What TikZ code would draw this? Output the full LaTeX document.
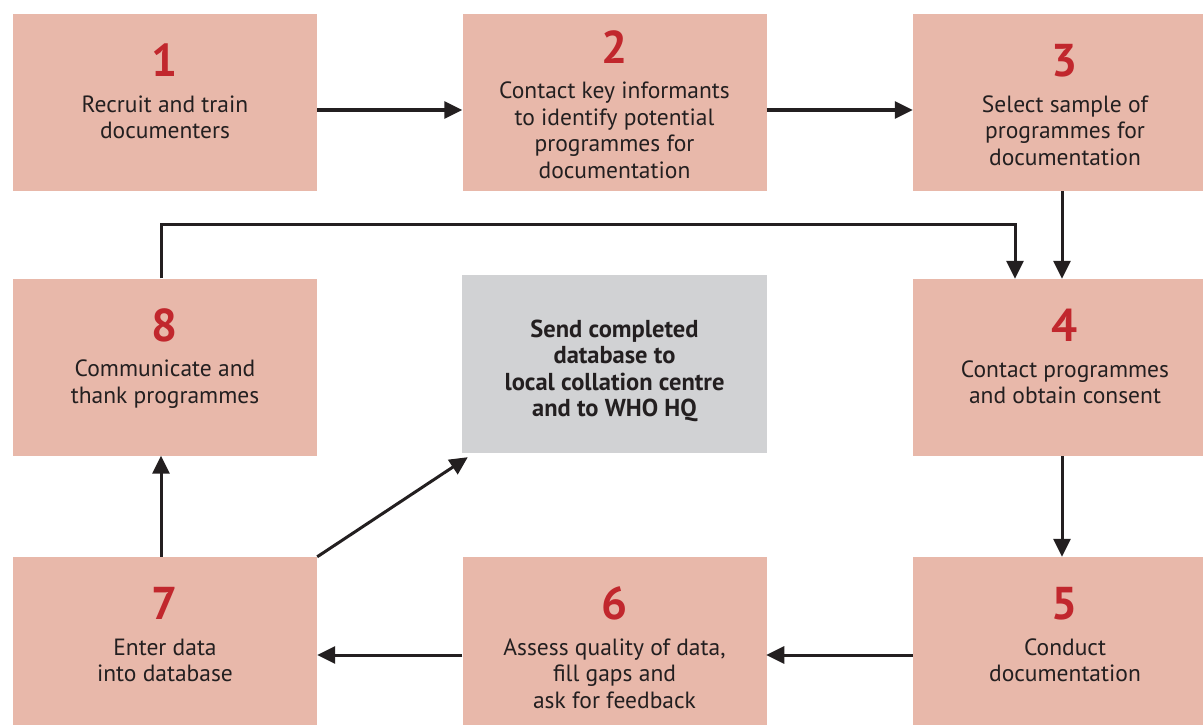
\documentclass[tikz,border=0pt]{standalone}
\usepackage{fontspec}
\setmainfont{PT Sans}
\usetikzlibrary{arrows.meta,calc}
\definecolor{boxfill}{HTML}{E8B8AA}
\definecolor{greyfill}{HTML}{D1D2D4}
\definecolor{numred}{HTML}{C1272D}
\definecolor{txt}{HTML}{231F20}
\tikzset{
  stepbox/.style={fill=boxfill, draw=none, minimum width=304pt, minimum height=177pt, inner sep=0pt, align=center, text=txt, font=\fontsize{23.5}{26.5}\selectfont},
  greybox/.style={fill=greyfill, draw=none, minimum width=305pt, minimum height=178pt, inner sep=0pt, align=center, text=txt, font=\fontsize{24.5}{26.5}\selectfont\bfseries},
  arr/.style={draw=txt, line width=3pt, -{Triangle[length=18pt,width=17pt]}},
}
\newcommand{\stepnum}[1]{{\color{numred}\fontsize{46}{46}\selectfont\bfseries\rule{0pt}{37pt}#1}\\[9pt]}
\newcommand{\padline}{\\\mbox{}}
\begin{document}
\begin{tikzpicture}[x=1pt,y=-1pt]
\useasboundingbox (0,0) rectangle (1203,725);
\clip (0,0) rectangle (1203,725);
\node[stepbox] (b1) at (165,102.5) {\stepnum{1}Recruit and train\\documenters\padline};
\node[stepbox] (b2) at (614.5,102.5) {\stepnum{2}Contact key informants\\to identify potential\\programmes for\\documentation};
\node[stepbox] (b3) at (1065,102.5) {\stepnum{3}Select sample of\\programmes for\\documentation};
\node[stepbox] (b8) at (165,367) {\stepnum{8}Communicate and\\thank programmes\padline};
\node[greybox] (g) at (614.5,364) {\rule{0pt}{31pt}Send completed\\database to\\local collation centre\\and to WHO HQ};
\node[stepbox] (b4) at (1065,367.5) {\stepnum{4}Contact programmes\\and obtain consent\padline};
\node[stepbox] (b7) at (165,645.5) {\stepnum{7}Enter data\\into database\padline};
\node[stepbox] (b6) at (614.5,645.5) {\stepnum{6}Assess quality of data,\\fill gaps and\\ask for feedback};
\node[stepbox] (b5) at (1065,645.5) {\stepnum{5}Conduct\\documentation\padline};
\coordinate (top) at ($(b8.north)+(-4,-54)$);
\draw[arr] ($(b1.east)+(0,7.5)$) -- ($(b2.west)+(0,7.5)$);
\draw[arr] ($(b2.east)+(0,7.5)$) -- ($(b3.west)+(0,7.5)$);
\draw[arr] ($(b3.south)+(-3,0)$) -- ($(b4.north)+(-3,0)$);
\draw[arr] ($(b4.south)+(-3,0)$) -- ($(b5.north)+(-3,0)$);
\draw[arr] ($(b5.west)+(0,9.5)$) -- ($(b6.west)+(304,9.5)$);
\draw[arr] ($(b6.west)+(0,9.5)$) -- ($(b7.east)+(0,9.5)$);
\draw[arr] ($(b7.north)+(-4,0)$) -- ($(b8.south)+(-4,0)$);
\draw[arr] (b7.north east) -- ($(g.south west)+(6,4)$);
\draw[arr] ($(b8.north)+(-4,0)$) -- (top) -| ($(b4.north)+(-50,0)$);
\end{tikzpicture}
\end{document}
